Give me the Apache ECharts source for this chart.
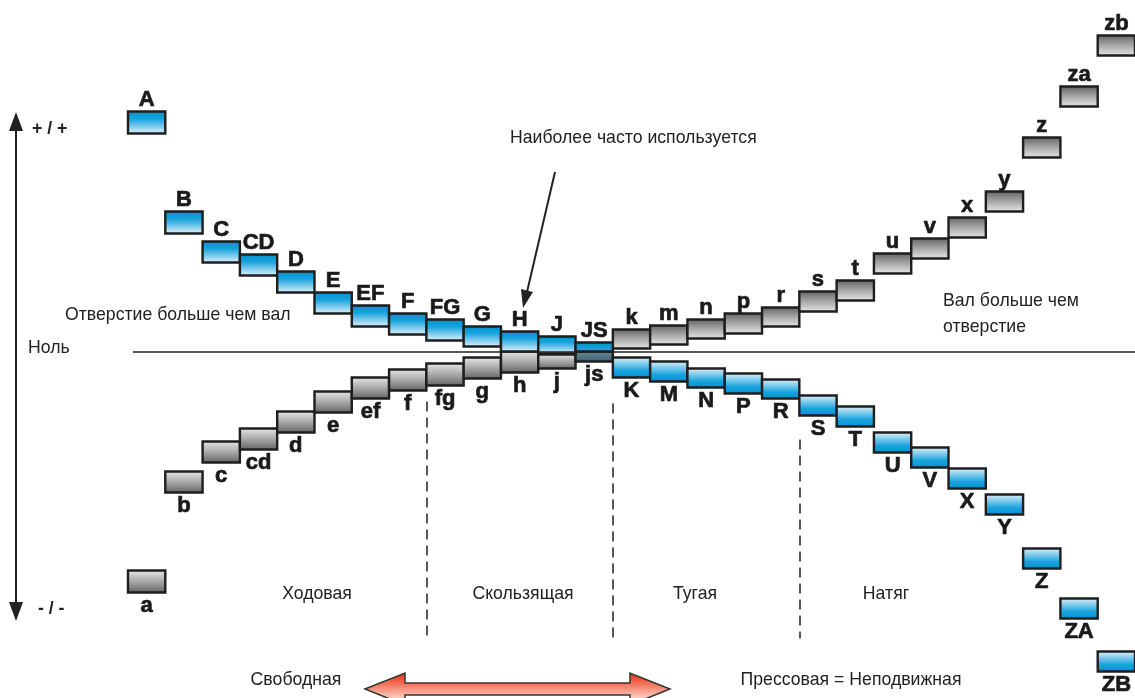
<!DOCTYPE html>
<html>
<head>
<meta charset="utf-8">
<script src="https://cdn.jsdelivr.net/npm/echarts@6/dist/echarts.min.js"></script>
<style>
  html, body { margin: 0; padding: 0; background: #fff; }
  #main { width: 1135px; height: 698px; }
</style>
</head>
<body>
<div id="main"></div>
<script>
// tolerance fields: one column per letter, upper / lower deviation from the zero line
const holeNames  = ['A','B','C','CD','D','E','EF','F','FG','G','H','J','JS','K','M','N','P','R','S','T','U','V','X','Y','Z','ZA','ZB'];
const holeUpper  = [240, 140, 110, 97, 80, 59, 46, 38, 32, 25, 20, 15, 9, -6, -10, -17, -22, -28, -44, -55, -81, -96, -117, -143, -197, -247, -300];
const holeLower  = [218, 118, 89, 76, 59, 38, 25, 17, 11, 5, 0, -2, 0, -26, -30, -36, -42, -47, -64, -75, -101, -116, -137, -163, -217, -267, -320];

const shaftNames = ['a','b','c','cd','d','e','ef','f','fg','g','h','j','js','k','m','n','p','r','s','t','u','v','x','y','z','za','zb'];
const shaftUpper = [-219, -120, -90, -77, -60, -40, -26, -18, -12, -6, 0, -3, 0, 22, 26, 32, 38, 44, 60, 71, 98, 113, 134, 160, 214, 265, 316];
const shaftLower = [-241, -141, -111, -98, -81, -61, -47, -39, -34, -27, -21, -17, -10, 3, 7, 13, 18, 25, 40, 51, 78, 93, 114, 140, 194, 245, 296];

// fit zones (column boundaries) and their names
const fitBounds = [8, 13, 18];
const fitNames  = ['Ходовая', 'Скользящая', 'Тугая', 'Натяг'];

const txtFont = '19px "Liberation Sans", Arial, sans-serif';
const boldFont = 'bold 22px "Liberation Sans", Arial, sans-serif';

// dark on the side away from the zero line, light towards it
function grad(stops, farOnTop) {
  const s = farOnTop ? stops : stops.map(st => ({ offset: 1 - st.offset, color: st.color })).reverse();
  return new echarts.graphic.LinearGradient(0, 0, 0, 1, s);
}
const blueStops = [{ offset: 0, color: '#0090d0' }, { offset: 0.35, color: '#17a2dc' }, { offset: 1, color: '#eaf6fd' }];
const grayStops = [{ offset: 0, color: '#5e5e5e' }, { offset: 0.4, color: '#9a9a9a' }, { offset: 1, color: '#ececec' }];

function boxRenderer(names, kind) {
  return function (params, api) {
    const i = api.value(0), up = api.value(1), lo = api.value(2);
    const name = names[params.dataIndex];
    const p1 = api.coord([i, up]);
    const p2 = api.coord([i + 1, lo]);
    const above = up + lo > 0;
    let fill;
    if (name === 'JS') {
      fill = grad([{ offset: 0, color: '#0a8cc4' }, { offset: 1, color: '#2aa6da' }], true);
    } else if (name === 'js') {
      fill = grad([{ offset: 0, color: '#3a5f70' }, { offset: 1, color: '#6d8a98' }], false);
    } else if (kind === 'hole') {
      fill = grad(blueStops, above);
    } else {
      fill = grad(grayStops, above);
    }
    const cx = (p1[0] + p2[0]) / 2;
    return {
      type: 'group',
      children: [
        {
          type: 'rect',
          shape: { x: p1[0], y: p1[1], width: p2[0] - p1[0], height: p2[1] - p1[1] },
          style: { fill: fill, stroke: '#1e1e1e', lineWidth: 2.4 }
        },
        {
          type: 'text',
          x: cx,
          y: above ? p1[1] - 1 : p2[1] + 2,
          style: {
            text: name, font: boldFont, fill: '#1a1a1a',
            stroke: '#1a1a1a', lineWidth: 0.7,
            align: 'center', verticalAlign: above ? 'bottom' : 'top'
          }
        }
      ]
    };
  };
}

const holeData = holeNames.map((n, i) => [i, holeUpper[i], holeLower[i]]);
const shaftData = shaftNames.map((n, i) => [i, shaftUpper[i], shaftLower[i]]);

// plain annotation text, squeezed a little to look like the condensed original
function txt(x, y, text, extra) {
  return {
    type: 'text', x: x, y: y, z: 10, scaleX: 0.93,
    style: Object.assign({ text: text, font: txtFont, fill: '#222', align: 'left', verticalAlign: 'middle' }, extra || {})
  };
}

const chart = echarts.init(document.getElementById('main'));

const option = {
  animation: false,
  backgroundColor: '#fff',
  grid: { left: 128, top: 0, width: 1009, height: 698 },
  xAxis: { type: 'value', min: 0, max: 27, show: false },
  yAxis: { type: 'value', min: -346.5, max: 351.5, show: false },
  series: [
    {
      type: 'custom',
      name: 'shafts',
      renderItem: boxRenderer(shaftNames, 'shaft'),
      data: shaftData,
      clip: false,
      z: 3,
      markLine: {
        silent: true,
        symbol: 'none',
        label: { show: false },
        lineStyle: { color: '#222', width: 1.5, type: [10, 6] },
        data: [
          [{ coord: [fitBounds[0], -50] }, { coord: [fitBounds[0], -286] }],
          [{ coord: [fitBounds[1], -52] }, { coord: [fitBounds[1], -288] }],
          [{ coord: [fitBounds[2], -88] }, { coord: [fitBounds[2], -287] }]
        ]
      }
    },
    {
      type: 'custom',
      name: 'holes',
      renderItem: boxRenderer(holeNames, 'hole'),
      data: holeData,
      clip: false,
      z: 4,
      markLine: {
        silent: true,
        symbol: 'none',
        label: { show: false },
        lineStyle: { color: '#222', width: 1.5, type: 'solid' },
        data: [[{ coord: [0.13, 0] }, { coord: [27, 0] }]]
      }
    }
  ],
  graphic: [
    // vertical deviation arrow
    { type: 'line', shape: { x1: 16, y1: 126, x2: 16, y2: 606 }, style: { stroke: '#222', lineWidth: 2 } },
    { type: 'polygon', shape: { points: [[16, 112], [9, 131], [23, 131]] }, style: { fill: '#222' } },
    { type: 'polygon', shape: { points: [[16, 621], [9, 602], [23, 602]] }, style: { fill: '#222' } },
    txt(32, 129, '+ / +', { font: 'bold 19px "Liberation Sans", Arial, sans-serif' }),
    txt(38, 609, '- / -', { font: 'bold 19px "Liberation Sans", Arial, sans-serif' }),

    txt(28, 348, 'Ноль'),
    txt(65, 315, 'Отверстие больше чем вал'),
    txt(943, 301, 'Вал больше чем'),
    txt(943, 327, 'отверстие'),
    txt(510, 138, 'Наиболее часто используется'),

    // pointer to H
    { type: 'line', shape: { x1: 555, y1: 172, x2: 527, y2: 292 }, style: { stroke: '#222', lineWidth: 2 } },
    { type: 'polygon', shape: { points: [[523, 308], [533, 292], [521, 289]] }, style: { fill: '#222' } },

    // fit zone names
    txt(317, 594, fitNames[0], { align: 'center' }),
    txt(523, 594, fitNames[1], { align: 'center' }),
    txt(695, 594, fitNames[2], { align: 'center' }),
    txt(886, 594, fitNames[3], { align: 'center' }),

    txt(296, 680, 'Свободная', { align: 'center' }),
    txt(851, 680, 'Прессовая = Неподвижная', { align: 'center' }),

    // double arrow
    {
      type: 'polygon',
      shape: { points: [[365, 689], [405, 673], [405, 683], [630, 683], [630, 673], [670, 689], [630, 705], [630, 695], [405, 695], [405, 705]] },
      style: {
        fill: new echarts.graphic.LinearGradient(0, 676, 0, 700, [
          { offset: 0, color: '#ee4124' },
          { offset: 1, color: '#fcd8cc' }
        ], true),
        stroke: '#333', lineWidth: 1.5
      }
    }
  ]
};

chart.setOption(option);
</script>
</body>
</html>
